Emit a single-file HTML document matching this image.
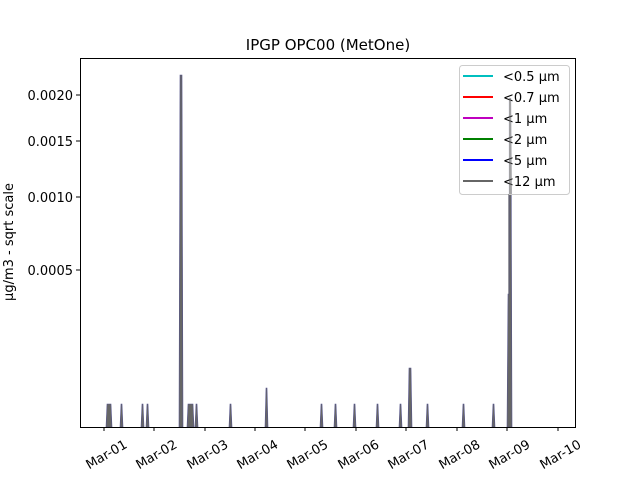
<!DOCTYPE html>
<html><head><style>body{margin:0;background:#fff}svg{display:block}text{font-family:"DejaVu Sans","Liberation Sans",sans-serif}</style></head>
<body>
<svg width="640" height="480" viewBox="0 0 640 480" xmlns="http://www.w3.org/2000/svg">
<rect width="640" height="480" fill="#fff"/>
<text x="328" y="50" font-size="15" text-anchor="middle">IPGP OPC00 (MetOne)</text>
<g fill="#666" stroke="#55548a" stroke-width="0.6">
<path d="M106,427 L107,404 L111,404 L112,427Z"/>
<path d="M120,427 L121,404 L122,404 L123,427Z"/>
<path d="M141,427 L142,404 L143,404 L144,427Z"/>
<path d="M146,427 L147,404 L148,404 L149,427Z"/>
<path d="M179,427 L180,75 L182,75 L183,427Z"/>
<path d="M187,427 L188,404 L193,404 L194,427Z"/>
<path d="M195,427 L196,404 L197,404 L198,427Z"/>
<path d="M229,427 L230,404 L231,404 L232,427Z"/>
<path d="M265,427 L266,388 L267,388 L268,427Z"/>
<path d="M320,427 L321,404 L322,404 L323,427Z"/>
<path d="M334,427 L335,404 L336,404 L337,427Z"/>
<path d="M353,427 L354,404 L355,404 L356,427Z"/>
<path d="M376,427 L377,404 L378,404 L379,427Z"/>
<path d="M399,427 L400,404 L401,404 L402,427Z"/>
<path d="M408,427 L409,368 L411,368 L412,427Z"/>
<path d="M426,427 L427,404 L428,404 L429,427Z"/>
<path d="M462,427 L463,404 L464,404 L465,427Z"/>
<path d="M492,427 L493,404 L494,404 L495,427Z"/>
<path d="M507,427 L508,294 L509,294 L509,98 L511,98 L512,427Z"/>
</g>
<rect x="80.5" y="58.5" width="495" height="369" fill="none" stroke="#000" stroke-width="1"/>
<g stroke="#000" stroke-width="1">
<line x1="104" y1="427" x2="104" y2="431"/><line x1="154" y1="427" x2="154" y2="431"/>
<line x1="205" y1="427" x2="205" y2="431"/><line x1="255" y1="427" x2="255" y2="431"/>
<line x1="305" y1="427" x2="305" y2="431"/><line x1="356" y1="427" x2="356" y2="431"/>
<line x1="406" y1="427" x2="406" y2="431"/><line x1="457" y1="427" x2="457" y2="431"/>
<line x1="507" y1="427" x2="507" y2="431"/><line x1="558" y1="427" x2="558" y2="431"/>
<line x1="76" y1="95" x2="80" y2="95"/><line x1="76" y1="141" x2="80" y2="141"/>
<line x1="76" y1="197" x2="80" y2="197"/><line x1="76" y1="270" x2="80" y2="270"/>
</g>
<g font-size="13" text-anchor="end">
<text x="73" y="100">0.0020</text><text x="73" y="146">0.0015</text>
<text x="73" y="202">0.0010</text><text x="73" y="275">0.0005</text>
</g>
<text transform="translate(13,242) rotate(-90)" font-size="13" text-anchor="middle">µg/m3 - sqrt scale</text>
<g font-size="13" text-anchor="end">
<text transform="translate(128,447) rotate(-30)">Mar-01</text>
<text transform="translate(178,447) rotate(-30)">Mar-02</text>
<text transform="translate(229,447) rotate(-30)">Mar-03</text>
<text transform="translate(279,447) rotate(-30)">Mar-04</text>
<text transform="translate(329,447) rotate(-30)">Mar-05</text>
<text transform="translate(380,447) rotate(-30)">Mar-06</text>
<text transform="translate(430,447) rotate(-30)">Mar-07</text>
<text transform="translate(481,447) rotate(-30)">Mar-08</text>
<text transform="translate(531,447) rotate(-30)">Mar-09</text>
<text transform="translate(582,447) rotate(-30)">Mar-10</text>
</g>
<rect x="459.5" y="65.5" width="110" height="129" rx="3" fill="#fff" fill-opacity="0.8" stroke="#ccc"/>
<g stroke-width="2">
<line x1="463" y1="76" x2="493" y2="76" stroke="#00bfbf"/>
<line x1="463" y1="97" x2="493" y2="97" stroke="#ff0000"/>
<line x1="463" y1="118" x2="493" y2="118" stroke="#bf00bf"/>
<line x1="463" y1="139" x2="493" y2="139" stroke="#008000"/>
<line x1="463" y1="160" x2="493" y2="160" stroke="#0000ff"/>
<line x1="463" y1="181" x2="493" y2="181" stroke="#666"/>
</g>
<g font-size="13">
<text x="503" y="81">&lt;0.5 µm</text><text x="503" y="102">&lt;0.7 µm</text>
<text x="503" y="123">&lt;1 µm</text><text x="503" y="144">&lt;2 µm</text>
<text x="503" y="165">&lt;5 µm</text><text x="503" y="186">&lt;12 µm</text>
</g>
<path d="M508,194 L508,294 L509,294 L509,98 L511,98 L512,194Z" fill="#666" opacity="0.5"/>
</svg>
</body></html>
